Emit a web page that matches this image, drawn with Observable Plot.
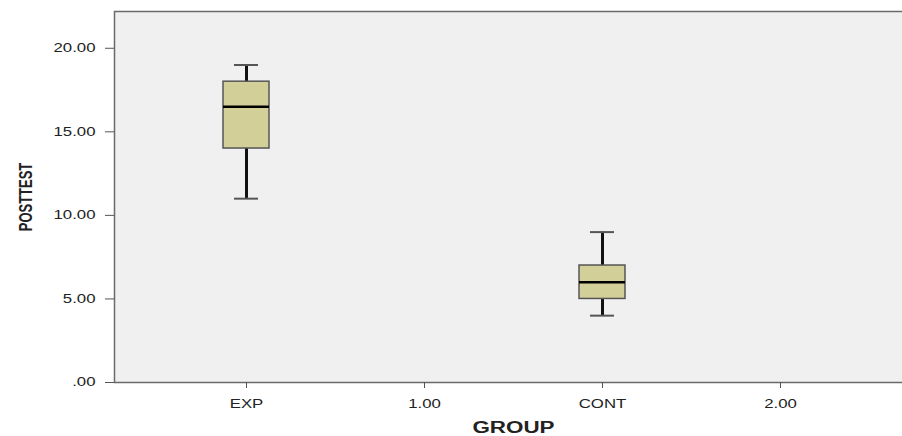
<!DOCTYPE html>
<html><head><meta charset="utf-8">
<script src="https://cdn.jsdelivr.net/npm/d3@7"></script>
<script src="https://cdn.jsdelivr.net/npm/@observablehq/plot@0.6"></script>
<style>
body{margin:0;background:#fff}
#chart svg{display:block}
#chart [aria-label="x-axis label"], #chart [aria-label="y-axis label"]{font-weight:bold}
#chart [aria-label="x-axis label"]{font-size:16px}
#chart [aria-label="y-axis label"]{font-size:13px}
</style></head><body><div id="chart"></div>
<script>
const groups = ["EXP", "1.00", "CONT", "2.00"];
const boxGroups = ["EXP", "CONT"];
const whiskerLow = [11, 4];
const q1 = [14, 5];
const median = [16.5, 6];
const q3 = [18, 7];
const whiskerHigh = [19, 9];
const yTicks = [0, 5, 10, 15, 20];
const yTickLabels = [".00", "5.00", "10.00", "15.00", "20.00"];
const yMax = 22.2;

const boxes = boxGroups.map((g, i) => ({group: g, low: whiskerLow[i], q1: q1[i], median: median[i], q3: q3[i], high: whiskerHigh[i]}));

const chart = Plot.plot({
  width: 902, height: 436,
  marginLeft: 114, marginTop: 11, marginBottom: 54, marginRight: -10,
  style: {fontFamily: "'Liberation Sans', Arial, sans-serif", fontSize: "12px", background: "transparent", color: "#222"},
  x: {type: "band", domain: groups, paddingInner: 0.742, paddingOuter: 0.605},
  y: {domain: [0, yMax]},
  marks: [
    Plot.frame({fill: "#f0f0f0", stroke: "#6a6a6a", strokeWidth: 1.5}),
    Plot.ruleX(boxes, {x: "group", y1: "low", y2: "high", stroke: "#111", strokeWidth: 3}),
    Plot.tickY(boxes, {x: "group", y: "low", stroke: "#555", strokeWidth: 2, insetLeft: 11, insetRight: 11}),
    Plot.tickY(boxes, {x: "group", y: "high", stroke: "#555", strokeWidth: 2, insetLeft: 11, insetRight: 11}),
    Plot.barY(boxes, {x: "group", y1: "q1", y2: "q3", fill: "#d3cf98", stroke: "#555", strokeWidth: 1.5}),
    Plot.tickY(boxes, {x: "group", y: "median", stroke: "#000", strokeWidth: 2.5}),
    Plot.axisY({ticks: yTicks, tickFormat: d => yTickLabels[yTicks.indexOf(d)], tickSize: 9, tickPadding: 10, stroke: "#555", label: "POSTTEST", labelArrow: "none", labelAnchor: "center", labelOffset: 95}),
    Plot.axisX({tickSize: 6, tickPadding: 11, stroke: "#555", label: "GROUP", labelArrow: "none", labelAnchor: "center", labelOffset: 50})
  ]
});
document.getElementById("chart").appendChild(chart);
d3.select(chart).selectAll("text").each(function() {
  const t = this.getAttribute("transform") || "";
  if (/rotate\(/.test(t)) this.setAttribute("transform", t.replace(/(rotate\([^)]*\))/, "scale(1.4,1) $1"));
  else this.setAttribute("transform", t + " scale(1.4,1)");
});
</script></body></html>
